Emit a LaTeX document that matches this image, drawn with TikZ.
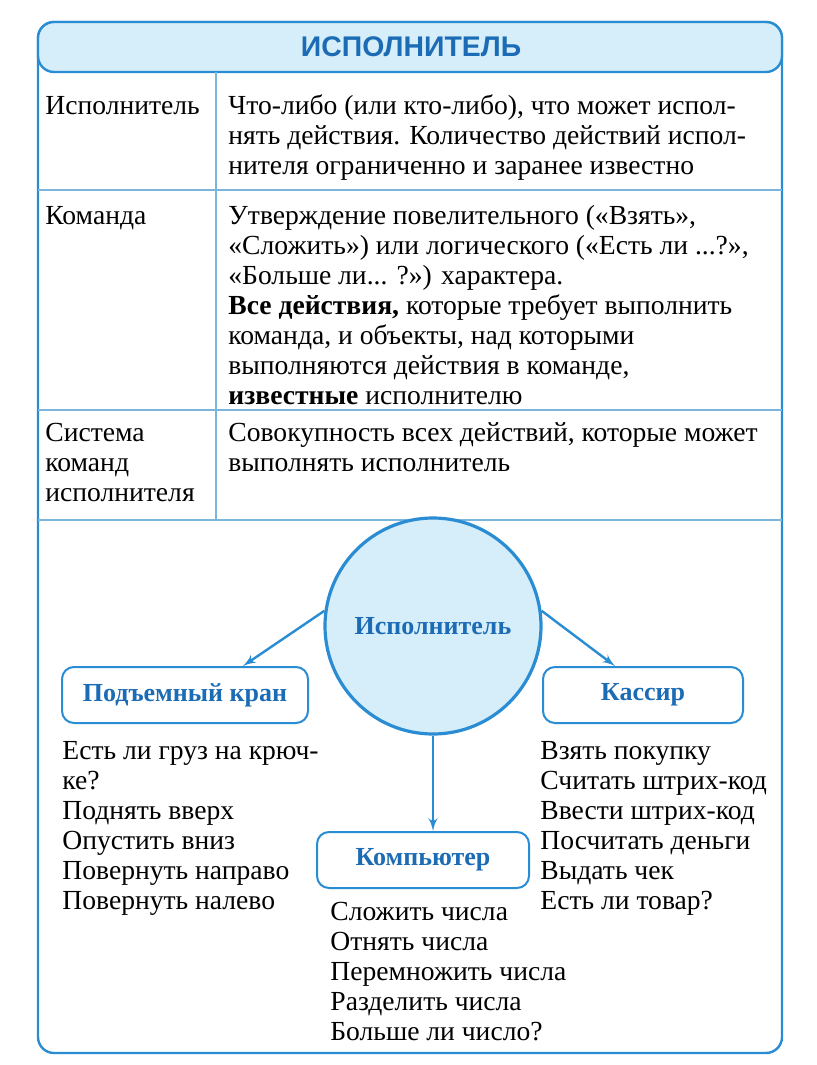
\documentclass[tikz,border=0pt]{standalone}
\usepackage{fontspec}
\setmainfont{Liberation Serif}
\newfontfamily\titlefont{Liberation Sans}
\usepackage{tikz}
\usetikzlibrary{arrows}

\definecolor{frameblue}{HTML}{2A8CD2}
\definecolor{ruleblue}{HTML}{7DB6DC}
\definecolor{lightblue}{HTML}{D6EEF9}
\definecolor{textblue}{HTML}{1C6CB5}

\begin{document}
\begin{tikzpicture}[x=0.5pt,y=-0.5pt]
 \tikzstyle{every node}=[inner sep=0pt, font=\fontsize{13.8}{15}\selectfont]
 \tikzstyle{frame} = [draw=frameblue, line width=1.2pt, rounded corners=8pt]
 \tikzstyle{rule} = [draw=ruleblue, line width=0.8pt]
 \tikzstyle{cell} = [anchor=base west, align=left]
 \tikzstyle{head} = [draw=frameblue, line width=1pt, rounded corners=6pt, fill=white, text=textblue, font=\bfseries\fontsize{13}{15}\selectfont, minimum height=28pt]
 \tikzstyle{l} = [draw=frameblue, -latex', line width=1.2pt]
 \useasboundingbox (0,0) rectangle (816,1065);
 % frame, title band and table rules
 \path [frame, fill=white] (38,22) rectangle (782,1053);
 \path [frame, fill=lightblue] (38,22) rectangle (782,72);
 \path [rule] (216,72) -- (216,520);
 \path [rule] (38,190) -- (782,190);
 \path [rule] (38,410) -- (782,410);
 \path [rule] (38,520) -- (782,520);
 \node [text=textblue, font=\titlefont\bfseries\fontsize{14.2}{16}\selectfont] (Title) at (411,47) {ИСПОЛНИТЕЛЬ};
 % table (cells are placed at the baseline of their last line)
 \draw
 node [cell] (T1) at (45,115) {Исполнитель}
 node [cell] (D1) at (228,175) {Что-либо (или кто-либо), что может испол-\\нять действия. Количество действий испол-\\нителя ограниченно и заранее известно}
 node [cell] (T2) at (45,224) {Команда}
 node [cell] (D2) at (228,404) {Утверждение повелительного («Взять»,\\«Сложить») или логического («Есть ли ...?»,\\«Больше ли... ?») характера.\\\textbf{Все действия,} которые требует выполнить\\команда, и объекты, над которыми\\выполняются действия в команде,\\\textbf{известные} исполнителю}
 node [cell] (T3) at (45,501) {Система\\команд\\исполнителя}
 node [cell] (D3) at (228,471) {Совокупность всех действий, которые может\\выполнять исполнитель}
 ;
 % scheme
 \node [circle, draw=frameblue, line width=1.6pt, fill=lightblue, minimum size=108pt, text=textblue, font=\bfseries\fontsize{13}{15}\selectfont] (Exec) at (433,626) {Исполнитель};
 \node [head, minimum width=123pt] (Crane) at (185,695) {Подъемный кран};
 \node [head, minimum width=100pt] (Cashier) at (643,695) {Кассир};
 \node [head, minimum width=106pt] (Computer) at (423,860) {Компьютер};
 \path [l] (Exec.172) -- ([xshift=29pt]Crane.north);
 \path [l] (Exec.8) -- ([xshift=-14pt]Cashier.north);
 \path [l] (Exec.south) -- (Exec.south |- Computer.north);
 \draw
 node [cell] (CraneCmd) at (62,909) {Есть ли груз на крюч-\\ке?\\Поднять вверх\\Опустить вниз\\Повернуть направо\\Повернуть налево}
 node [cell] (CashierCmd) at (540,909) {Взять покупку\\Считать штрих-код\\Ввести штрих-код\\Посчитать деньги\\Выдать чек\\Есть ли товар?}
 node [cell] (ComputerCmd) at (330,1040) {Сложить числа\\Отнять числа\\Перемножить числа\\Разделить числа\\Больше ли число?}
 ;
\end{tikzpicture}
\end{document}
